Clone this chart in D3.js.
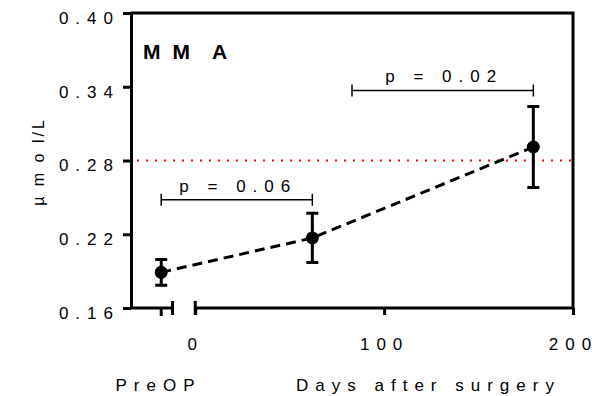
<!DOCTYPE html>
<html>
<head>
<meta charset="utf-8">
<script src="https://cdn.jsdelivr.net/npm/d3@7"></script>
<style>
  body { margin: 0; background: #fff; }
  svg { display: block; font-family: "Liberation Sans", Arial, sans-serif; }
</style>
</head>
<body>
<svg id="chart" width="613" height="396"></svg>
<script>
// data
var pointDays = [-18, 62, 179]          // PreOP drawn left of the axis break
var mmaMean = [0.189, 0.217, 0.291]
var mmaErr = [0.0105, 0.020, 0.033]
var refLevel = 0.28
var yTicks = [0.16, 0.22, 0.28, 0.34, 0.40]
var xTicks = [0, 100, 200]
var preDay = -18
var preLabel = 'PreOP'
var pFrom = [-18, 83]
var pTo = [62, 179]
var pLevel = [0.248, 0.337]
var pText = ['p = 0.06', 'p = 0.02']

var svg = d3.select('#chart')
var conf = { left: 131, right: 573, top: 13, bottom: 308 }

var x = d3.scaleLinear().domain([-34, 200]).range([conf.left, conf.right])
var y = d3.scaleLinear().domain([0.16, 0.40]).range([conf.bottom, conf.top])
var breakAt = [-12, 0]
var ls = 7

// frame (top and right)
svg.append('path')
    .attr('d', 'M' + conf.left + ',' + y(0.40) + 'H' + x(200) + 'V' + conf.bottom)
    .attr('fill', 'none').attr('stroke', '#000').attr('stroke-width', 3)

// y axis
var yAxis = svg.append('g')
    .attr('transform', 'translate(' + conf.left + ',0)')
    .call(d3.axisLeft(y).tickValues(yTicks).tickSize(8).tickPadding(3).tickSizeOuter(0)
        .tickFormat(d3.format('.2f')))
yAxis.selectAll('path, line').attr('stroke', '#000').attr('stroke-width', 3)
yAxis.selectAll('text').attr('font-size', 17).attr('fill', '#000')
    .attr('letter-spacing', ls).attr('y', 5).attr('font-family', null)

// x axis, right part (days)
var xAxis = svg.append('g')
    .attr('transform', 'translate(0,' + conf.bottom + ')')
    .call(d3.axisBottom(x).tickValues(xTicks).tickSize(7).tickSizeOuter(0).tickFormat(d3.format('d')))
xAxis.select('.domain').attr('d', 'M' + x(breakAt[1]) + ',0H' + x(200))
xAxis.selectAll('path, line').attr('stroke', '#000').attr('stroke-width', 3)
xAxis.selectAll('text').attr('font-size', 17).attr('fill', '#000')
    .attr('letter-spacing', ls).attr('y', 42).attr('dy', 0).attr('font-family', null)

// x axis, PreOP part
var pre = svg.append('g').attr('transform', 'translate(0,' + conf.bottom + ')')
pre.append('path').attr('d', 'M' + conf.left + ',0H' + x(breakAt[0]))
    .attr('stroke', '#000').attr('stroke-width', 3)
pre.append('line').attr('x1', x(preDay)).attr('x2', x(preDay)).attr('y1', 0).attr('y2', 8)
    .attr('stroke', '#000').attr('stroke-width', 3)
// break caps
breakAt.forEach(function (b) {
    pre.append('line').attr('x1', x(b)).attr('x2', x(b)).attr('y1', -7).attr('y2', 7)
        .attr('stroke', '#000').attr('stroke-width', 3)
})

// axis titles
svg.append('text').attr('x', 155 + ls / 2).attr('y', 391).attr('text-anchor', 'middle')
    .attr('font-size', 17).attr('letter-spacing', ls).text(preLabel)
svg.append('text').attr('x', 425 + ls / 2).attr('y', 391).attr('text-anchor', 'middle')
    .attr('font-size', 17).attr('letter-spacing', ls).text('Days after surgery')
svg.append('text')
    .attr('transform', 'translate(44,' + (y(0.28) + 1) + ') rotate(-90)')
    .attr('text-anchor', 'middle').attr('font-size', 16).attr('letter-spacing', 3)
    .attr('xml:space', 'preserve')
    .text('µ m o l/L')

// title
var t = svg.append('text').attr('x', 143).attr('y', 59).attr('font-size', 21).attr('font-weight', 'bold')
t.append('tspan').text('M')
t.append('tspan').attr('dx', 12).text('M')
t.append('tspan').attr('dx', 22).text('A')

// reference line
svg.append('line')
    .attr('x1', conf.left + 6).attr('x2', conf.right - 2)
    .attr('y1', y(refLevel)).attr('y2', y(refLevel))
    .attr('stroke', '#ff0000').attr('stroke-width', 2.2).attr('stroke-dasharray', '2,7')

// p-value brackets
pText.forEach(function (s, i) {
    var g = svg.append('g')
    var yy = y(pLevel[i])
    g.append('path')
        .attr('d', 'M' + x(pFrom[i]) + ',' + (yy - 6) + 'V' + (yy + 6) +
            'M' + x(pFrom[i]) + ',' + yy + 'H' + x(pTo[i]) +
            'M' + x(pTo[i]) + ',' + (yy - 6) + 'V' + (yy + 6))
        .attr('fill', 'none').attr('stroke', '#000').attr('stroke-width', 1.5)
    g.append('text')
        .attr('x', (x(pFrom[i]) + x(pTo[i])) / 2 + ls / 2 - 2)
        .attr('y', yy - 8).attr('text-anchor', 'middle')
        .attr('font-size', 17).attr('letter-spacing', ls).text(s)
})

// dashed line through means
var line = d3.line().x(function (d, i) { return x(pointDays[i]) }).y(function (d) { return y(d) })
svg.append('path').datum(mmaMean).attr('d', line)
    .attr('fill', 'none').attr('stroke', '#000').attr('stroke-width', 3).attr('stroke-dasharray', '10,6')

// error bars and points
var pts = svg.selectAll('.pt').data(mmaMean).enter().append('g').attr('class', 'pt')
pts.append('path')
    .attr('d', function (d, i) {
        var cx = x(pointDays[i]), y0 = y(d + mmaErr[i]), y1 = y(d - mmaErr[i])
        return 'M' + (cx - 6) + ',' + y0 + 'H' + (cx + 6) + 'M' + cx + ',' + y0 + 'V' + y1 +
            'M' + (cx - 6) + ',' + y1 + 'H' + (cx + 6)
    })
    .attr('fill', 'none').attr('stroke', '#000').attr('stroke-width', 3)
pts.append('circle')
    .attr('cx', function (d, i) { return x(pointDays[i]) })
    .attr('cy', function (d) { return y(d) })
    .attr('r', 6.5).attr('fill', '#000')
</script>
</body>
</html>
